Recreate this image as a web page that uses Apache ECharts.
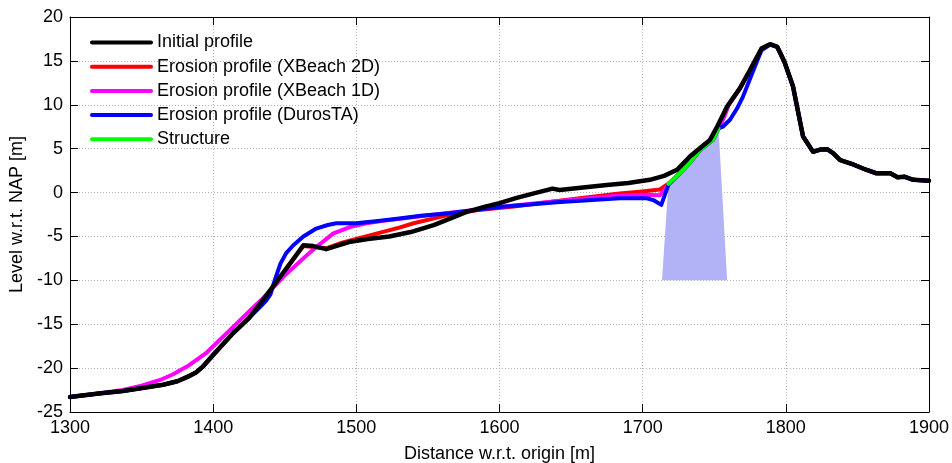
<!DOCTYPE html>
<html>
<head>
<meta charset="utf-8">
<script src="https://cdn.jsdelivr.net/npm/echarts@6/dist/echarts.min.js"></script>
<style>
html,body{margin:0;padding:0;background:#fff;}
#chart{width:952px;height:463px;}
</style>
</head>
<body>
<div id="chart"></div>
<script>
// ---- Data ----
var xTicks = [1300, 1400, 1500, 1600, 1700, 1800, 1900];
var yTicks = [-25, -20, -15, -10, -5, 0, 5, 10, 15, 20];

var initialProfile = [
  [1300,-23.3],[1320,-22.9],[1337,-22.6],[1365,-21.9],[1375,-21.5],[1382,-21.0],[1388,-20.5],
  [1393,-19.8],[1400,-18.5],[1414,-16.0],[1425,-14.3],[1435,-12.2],[1445,-10.0],[1455,-7.8],
  [1463,-6.0],[1470,-6.1],[1479,-6.45],[1488,-6.0],[1496,-5.6],[1508,-5.3],[1523,-5.0],
  [1538,-4.5],[1554,-3.7],[1565,-3.0],[1577,-2.2],[1590,-1.6],[1600,-1.2],[1612,-0.6],
  [1624,-0.1],[1637,0.45],[1642,0.3],[1660,0.6],[1675,0.86],[1690,1.1],[1705,1.45],
  [1715,1.9],[1724,2.6],[1733,4.1],[1741,5.2],[1747,6.0],[1752,7.5],[1759,9.8],[1768,11.9],
  [1775,13.96],[1783,16.4],[1789,16.9],[1794,16.6],[1799,14.9],[1805,12.1],[1812,6.4],
  [1819,4.65],[1824,4.9],[1829,4.93],[1833,4.5],[1838,3.7],[1847,3.2],[1856,2.6],[1863,2.2],
  [1873,2.2],[1878,1.75],[1883,1.8],[1889,1.45],[1900,1.35]
];

var erosionXBeach2D = [
  [1300,-23.3],[1320,-22.9],[1337,-22.6],[1365,-21.9],[1375,-21.5],[1382,-21.0],[1388,-20.5],
  [1393,-19.8],[1400,-18.5],[1414,-16.0],[1425,-14.3],[1435,-12.2],[1445,-10.0],[1455,-7.8],
  [1463,-6.1],[1470,-6.2],[1479,-6.35],[1490,-5.7],[1502,-5.2],[1516,-4.6],[1530,-4.0],
  [1540,-3.5],[1563,-2.6],[1585,-2.0],[1610,-1.6],[1656,-0.65],[1684,-0.1],[1698,0.1],
  [1712,0.35],[1718,1.0],[1726,2.2],[1733,3.4],[1740,4.85],[1749,6.0],[1753,7.3],
  [1757,8.7],[1760,10.0],[1768,11.9],[1775,13.96],[1783,16.4],[1789,16.9],[1794,16.6],
  [1799,14.9],[1805,12.1],[1812,6.4],[1819,4.65],[1824,4.9],[1829,4.93],[1833,4.5],
  [1838,3.7],[1847,3.2],[1856,2.6],[1863,2.2],[1873,2.2],[1878,1.75],[1883,1.8],
  [1889,1.45],[1900,1.35]
];

var erosionXBeach1D = [
  [1300,-23.3],[1320,-22.9],[1337,-22.5],[1350,-22.0],[1363,-21.35],[1372,-20.7],[1382,-19.8],
  [1395,-18.3],[1414,-15.3],[1426,-13.4],[1435,-12.0],[1449,-9.6],[1463,-7.5],[1472,-6.2],
  [1484,-4.65],[1496,-3.9],[1507,-3.5],[1520,-3.2],[1542,-2.75],[1570,-2.2],[1600,-1.65],
  [1640,-1.0],[1680,-0.4],[1700,-0.25],[1712,-0.3],[1718,0.9],[1726,2.2],[1733,3.4],
  [1740,4.85],[1749,6.0],[1753,7.3],[1757,8.7],[1760,10.0],[1768,11.9],[1775,13.96],
  [1783,16.4],[1789,16.9],[1794,16.6],[1799,14.9],[1805,12.1],[1812,6.4],[1819,4.65],
  [1824,4.9],[1829,4.93],[1833,4.5],[1838,3.7],[1847,3.2],[1856,2.6],[1863,2.2],[1873,2.2],
  [1878,1.75],[1883,1.8],[1889,1.45],[1900,1.35]
];

var erosionDurosTA = [
  [1300,-23.3],[1320,-22.9],[1337,-22.6],[1365,-21.9],[1375,-21.5],[1382,-21.0],[1388,-20.5],
  [1393,-19.8],[1400,-18.5],[1414,-16.0],[1425,-14.3],[1433,-13.0],[1437,-12.3],[1440,-11.6],
  [1443,-10.0],[1447,-8.1],[1451,-6.9],[1456,-6.0],[1463,-5.0],[1472,-4.1],[1480,-3.7],
  [1486,-3.5],[1500,-3.5],[1515,-3.25],[1530,-2.95],[1545,-2.65],[1565,-2.36],[1600,-1.65],
  [1640,-1.1],[1684,-0.65],[1703,-0.65],[1708,-0.9],[1713,-1.4],[1718,0.9],[1726,2.2],
  [1733,3.4],[1740,4.85],[1749,6.0],[1753,7.3],[1756,7.5],[1761,8.3],[1766,9.6],[1770,10.9],
  [1777,13.8],[1783,16.2],[1789,16.85],[1794,16.6],[1799,14.9],[1805,12.1],[1812,6.4],
  [1819,4.65],[1824,4.9],[1829,4.93],[1833,4.5],[1838,3.7],[1847,3.2],[1856,2.6],[1863,2.2],
  [1873,2.2],[1878,1.75],[1883,1.8],[1889,1.45],[1900,1.35]
];

var structureLine = [[1718,1.0],[1726,2.2],[1733,3.4],[1740,4.85],[1749,6.0],[1753,7.3]];

var structureArea = [[1713.5,-10],[1718,1.0],[1726,2.2],[1733,3.4],[1740,4.85],[1749,6.0],[1753,7.3],[1759,-10]];

var seriesNames = ['Initial profile','Erosion profile (XBeach 2D)','Erosion profile (XBeach 1D)','Erosion profile (DurosTA)','Structure'];

// ---- Chart ----
var FONT = 'Liberation Sans, Arial, sans-serif';
var FS = 18;
var chart = echarts.init(document.getElementById('chart'), null, {renderer:'canvas'});

function lineSeries(name, data, color, width, z) {
  return {
    name: name, type: 'line', data: data, symbol: 'none', smooth: false,
    lineStyle: {color: color, width: width, cap: 'round', join: 'round'},
    itemStyle: {color: color},
    z: z, animation: false, clip: true
  };
}

var axisCommonX = {
  type: 'value', min: xTicks[0], max: xTicks[xTicks.length-1], interval: 100
};
var axisCommonY = {
  type: 'value', min: yTicks[0], max: yTicks[yTicks.length-1], interval: 5
};

var option = {
  backgroundColor: '#fff',
  animation: false,
  grid: {left: 70, right: 23, top: 17, bottom: 51, containLabel: false, outerBoundsMode: 'none'},
  legend: {
    data: seriesNames,
    orient: 'vertical',
    left: 85, top: 28.5,
    itemWidth: 59, itemHeight: 18, itemGap: 6.2,
    itemStyle: {opacity: 0},
    lineStyle: {width: 4},
    textStyle: {fontSize: FS, color: '#000', fontFamily: FONT, padding: [0,0,0,1]},
    selectedMode: false
  },
  xAxis: [
    Object.assign({}, axisCommonX, {
      position: 'bottom',
      name: 'Distance w.r.t. origin [m]', nameLocation: 'middle', nameGap: 33,
      nameTextStyle: {fontSize: FS, color: '#000', fontFamily: FONT},
      axisLine: {show: true, onZero: false, lineStyle: {color: '#000', width: 1}},
      axisTick: {show: true, inside: true, length: 8, lineStyle: {color: '#000'}},
      axisLabel: {fontSize: FS, color: '#000', fontFamily: FONT, margin: 7,
                  formatter: function (v) { return String(v); }},
      splitLine: {show: true, lineStyle: {color: '#b4b4b4', type: [1,2], width: 1}}
    }),
    Object.assign({}, axisCommonX, {
      position: 'top',
      axisLine: {show: true, onZero: false, lineStyle: {color: '#000', width: 1}},
      axisTick: {show: true, inside: true, length: 8, lineStyle: {color: '#000'}},
      axisLabel: {show: false},
      splitLine: {show: false}
    })
  ],
  yAxis: [
    Object.assign({}, axisCommonY, {
      position: 'left',
      name: 'Level w.r.t. NAP [m]', nameLocation: 'middle', nameGap: 44, nameRotate: 90,
      nameTextStyle: {fontSize: FS, color: '#000', fontFamily: FONT},
      axisLine: {show: true, onZero: false, lineStyle: {color: '#000', width: 1}},
      axisTick: {show: true, inside: true, length: 8, lineStyle: {color: '#000'}},
      axisLabel: {fontSize: FS, color: '#000', fontFamily: FONT, margin: 7,
                  formatter: function (v) { return String(v); }},
      splitLine: {show: true, lineStyle: {color: '#b4b4b4', type: [1,2], width: 1}}
    }),
    Object.assign({}, axisCommonY, {
      position: 'right',
      axisLine: {show: true, onZero: false, lineStyle: {color: '#000', width: 1}},
      axisTick: {show: true, inside: true, length: 8, lineStyle: {color: '#000'}},
      axisLabel: {show: false},
      splitLine: {show: false}
    })
  ],
  series: [
    {
      name: 'structureFill', type: 'custom', data: [0], z: 1, silent: true, clip: true,
      renderItem: function (params, api) {
        var pts = structureArea.map(function (p) { return api.coord(p); });
        return {type: 'polygon', shape: {points: pts}, style: {fill: '#b2b2f7', stroke: null}};
      }
    },
    lineSeries(seriesNames[1], erosionXBeach2D, '#ff0000', 4, 3),
    lineSeries(seriesNames[2], erosionXBeach1D, '#ff00ff', 4, 4),
    lineSeries(seriesNames[3], erosionDurosTA, '#0000ff', 4, 5),
    lineSeries(seriesNames[4], structureLine, '#00ff00', 4, 6),
    lineSeries(seriesNames[0], initialProfile, '#000000', 4.5, 7)
  ]
};
chart.setOption(option);
</script>
</body>
</html>
